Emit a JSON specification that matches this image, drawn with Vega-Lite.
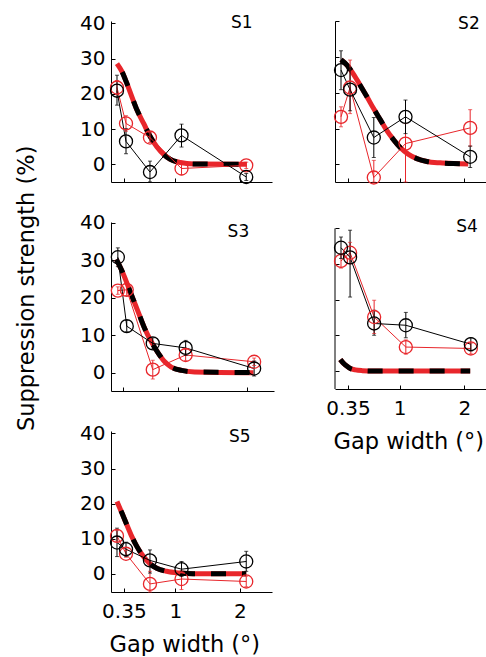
{
  "$schema": "https://vega.github.io/schema/vega-lite/v6.json",
  "padding": {"left": 15, "top": 13, "right": 0, "bottom": 0},
  "autosize": {"type": "pad"},
  "background": "white",
  "config": {
    "view": {"stroke": null},
    "font": "DejaVu Sans",
    "axis": {"grid": false, "domainColor": "#000000", "domainWidth": 1, "tickColor": "#000000", "tickWidth": 1, "tickSize": -4,
      "labelFont": "DejaVu Sans", "labelFontSize": 20, "labelColor": "#000000",
      "titleFont": "DejaVu Sans", "titleFontSize": 22.5, "titleColor": "#000000", "titleFontWeight": "normal"},
    "axisX": {"labelPadding": 13},
    "axisY": {"labelPadding": 10},
    "text": {"font": "DejaVu Sans", "fontSize": 17, "fontWeight": "normal", "color": "#000000", "align": "center", "baseline": "middle"}
  },
  "datasets": {
    "pts": [
      {"p": "S1", "c": "red", "x": 0.093, "y": 21.8, "lo": 19.8, "hi": 23.8},
      {"p": "S1", "c": "red", "x": 0.233, "y": 11.6, "lo": 9.4, "hi": 13.8},
      {"p": "S1", "c": "red", "x": 0.605, "y": 7.6, "lo": 6.2, "hi": 9.0},
      {"p": "S1", "c": "red", "x": 1.095, "y": -1.2, "lo": -3.0, "hi": 0.6},
      {"p": "S1", "c": "red", "x": 2.1, "y": -0.3, "lo": -1.2, "hi": 0.6},
      {"p": "S1", "c": "black", "x": 0.093, "y": 20.9, "lo": 16.8, "hi": 25.3},
      {"p": "S1", "c": "black", "x": 0.233, "y": 6.5, "lo": 3.0, "hi": 10.1},
      {"p": "S1", "c": "black", "x": 0.605, "y": -2.2, "lo": -5.0, "hi": 0.9},
      {"p": "S1", "c": "black", "x": 1.095, "y": 8.2, "lo": 4.9, "hi": 11.4},
      {"p": "S1", "c": "black", "x": 2.1, "y": -3.6, "lo": -4.6, "hi": -2.6},

      {"p": "S2", "c": "red", "x": 0.093, "y": 13.3, "lo": 10.5, "hi": 16.1},
      {"p": "S2", "c": "red", "x": 0.233, "y": 21.5, "lo": 14.2, "hi": 29.2},
      {"p": "S2", "c": "red", "x": 0.6, "y": -3.7, "lo": -5.0, "hi": 1.1},
      {"p": "S2", "c": "red", "x": 1.09, "y": 5.8, "lo": -4.96, "hi": 11.4},
      {"p": "S2", "c": "red", "x": 2.09, "y": 10.2, "lo": 5.1, "hi": 15.3},
      {"p": "S2", "c": "black", "x": 0.093, "y": 26.4, "lo": 20.9, "hi": 31.8},
      {"p": "S2", "c": "black", "x": 0.233, "y": 20.9, "lo": 15.0, "hi": 27.0},
      {"p": "S2", "c": "black", "x": 0.6, "y": 7.5, "lo": 1.9, "hi": 13.1},
      {"p": "S2", "c": "black", "x": 1.09, "y": 13.3, "lo": 8.6, "hi": 18.0},
      {"p": "S2", "c": "black", "x": 2.09, "y": 2.1, "lo": -0.9, "hi": 5.1},

      {"p": "S3", "c": "red", "x": 0.12, "y": 21.9, "lo": 20.9, "hi": 22.9},
      {"p": "S3", "c": "red", "x": 0.25, "y": 22.1, "lo": 20.6, "hi": 23.6},
      {"p": "S3", "c": "red", "x": 0.63, "y": 0.8, "lo": -1.7, "hi": 3.3},
      {"p": "S3", "c": "red", "x": 1.11, "y": 4.7, "lo": 3.2, "hi": 6.2},
      {"p": "S3", "c": "red", "x": 2.11, "y": 2.9, "lo": 1.9, "hi": 3.9},
      {"p": "S3", "c": "black", "x": 0.12, "y": 30.8, "lo": 28.3, "hi": 33.3},
      {"p": "S3", "c": "black", "x": 0.25, "y": 12.4, "lo": 10.9, "hi": 13.9},
      {"p": "S3", "c": "black", "x": 0.63, "y": 7.8, "lo": 6.3, "hi": 9.3},
      {"p": "S3", "c": "black", "x": 1.11, "y": 6.6, "lo": 4.6, "hi": 8.6},
      {"p": "S3", "c": "black", "x": 2.11, "y": 1.1, "lo": -0.9, "hi": 3.1},

      {"p": "S4", "c": "red", "x": 0.093, "y": 30.8, "lo": 28.8, "hi": 32.8},
      {"p": "S4", "c": "red", "x": 0.233, "y": 33.1, "lo": 30.0, "hi": 36.0},
      {"p": "S4", "c": "red", "x": 0.605, "y": 15.1, "lo": 10.5, "hi": 19.8},
      {"p": "S4", "c": "red", "x": 1.095, "y": 6.7, "lo": 4.7, "hi": 8.7},
      {"p": "S4", "c": "red", "x": 2.1, "y": 6.3, "lo": 4.8, "hi": 7.8},
      {"p": "S4", "c": "black", "x": 0.093, "y": 34.5, "lo": 31.5, "hi": 37.5},
      {"p": "S4", "c": "black", "x": 0.233, "y": 31.8, "lo": 20.7, "hi": 39.4},
      {"p": "S4", "c": "black", "x": 0.605, "y": 13.3, "lo": 10.0, "hi": 17.0},
      {"p": "S4", "c": "black", "x": 1.095, "y": 12.8, "lo": 9.3, "hi": 16.4},
      {"p": "S4", "c": "black", "x": 2.1, "y": 7.5, "lo": 5.6, "hi": 9.3},

      {"p": "S5", "c": "red", "x": 0.093, "y": 10.8, "lo": 9.3, "hi": 12.3},
      {"p": "S5", "c": "red", "x": 0.233, "y": 5.7, "lo": 4.7, "hi": 6.7},
      {"p": "S5", "c": "red", "x": 0.605, "y": -2.9, "lo": -5.2, "hi": 0.7},
      {"p": "S5", "c": "red", "x": 1.095, "y": -1.5, "lo": -4.5, "hi": 0.7},
      {"p": "S5", "c": "red", "x": 2.1, "y": -2.2, "lo": -3.7, "hi": -0.7},
      {"p": "S5", "c": "black", "x": 0.093, "y": 8.9, "lo": 4.9, "hi": 13.0},
      {"p": "S5", "c": "black", "x": 0.233, "y": 7.0, "lo": 5.0, "hi": 9.0},
      {"p": "S5", "c": "black", "x": 0.605, "y": 3.8, "lo": 0.2, "hi": 6.8},
      {"p": "S5", "c": "black", "x": 1.095, "y": 1.3, "lo": -0.8, "hi": 3.5},
      {"p": "S5", "c": "black", "x": 2.1, "y": 3.5, "lo": 0.7, "hi": 6.4}
    ],
    "fit": [
      {"p": "S1", "x": 0.093, "y": 28.6}, {"p": "S1", "x": 0.171, "y": 26.3}, {"p": "S1", "x": 0.248, "y": 22.9},
      {"p": "S1", "x": 0.326, "y": 19.1}, {"p": "S1", "x": 0.404, "y": 15.4}, {"p": "S1", "x": 0.507, "y": 11.6},
      {"p": "S1", "x": 0.611, "y": 7.8}, {"p": "S1", "x": 0.714, "y": 4.9}, {"p": "S1", "x": 0.818, "y": 2.8},
      {"p": "S1", "x": 0.921, "y": 1.4}, {"p": "S1", "x": 1.077, "y": 0.5}, {"p": "S1", "x": 1.284, "y": 0.1},
      {"p": "S1", "x": 2.11, "y": 0.0},

      {"p": "S2", "x": 0.093, "y": 29.3}, {"p": "S2", "x": 0.185, "y": 27.8}, {"p": "S2", "x": 0.288, "y": 25.2},
      {"p": "S2", "x": 0.391, "y": 22.1}, {"p": "S2", "x": 0.494, "y": 18.9}, {"p": "S2", "x": 0.597, "y": 15.6},
      {"p": "S2", "x": 0.70, "y": 12.5}, {"p": "S2", "x": 0.80, "y": 9.5}, {"p": "S2", "x": 0.905, "y": 6.9},
      {"p": "S2", "x": 1.008, "y": 4.7}, {"p": "S2", "x": 1.137, "y": 2.8}, {"p": "S2", "x": 1.265, "y": 1.6},
      {"p": "S2", "x": 1.42, "y": 0.8}, {"p": "S2", "x": 1.625, "y": 0.4}, {"p": "S2", "x": 1.83, "y": 0.2},
      {"p": "S2", "x": 2.06, "y": 0.1},

      {"p": "S3", "x": 0.098, "y": 30.2}, {"p": "S3", "x": 0.171, "y": 27.5}, {"p": "S3", "x": 0.244, "y": 24.3},
      {"p": "S3", "x": 0.317, "y": 20.8}, {"p": "S3", "x": 0.415, "y": 16.3}, {"p": "S3", "x": 0.512, "y": 11.8},
      {"p": "S3", "x": 0.61, "y": 8.2}, {"p": "S3", "x": 0.707, "y": 5.3}, {"p": "S3", "x": 0.805, "y": 2.9},
      {"p": "S3", "x": 0.90, "y": 1.5}, {"p": "S3", "x": 1.05, "y": 0.6}, {"p": "S3", "x": 1.24, "y": 0.2},
      {"p": "S3", "x": 2.10, "y": 0.0},

      {"p": "S4", "x": 0.083, "y": 3.2}, {"p": "S4", "x": 0.135, "y": 2.1}, {"p": "S4", "x": 0.187, "y": 1.3},
      {"p": "S4", "x": 0.238, "y": 0.7}, {"p": "S4", "x": 0.316, "y": 0.3}, {"p": "S4", "x": 0.42, "y": 0.1},
      {"p": "S4", "x": 0.6, "y": 0.0}, {"p": "S4", "x": 2.09, "y": 0.0},

      {"p": "S5", "x": 0.093, "y": 20.6}, {"p": "S5", "x": 0.17, "y": 17.3}, {"p": "S5", "x": 0.247, "y": 13.9},
      {"p": "S5", "x": 0.324, "y": 10.6}, {"p": "S5", "x": 0.401, "y": 7.8}, {"p": "S5", "x": 0.504, "y": 4.9},
      {"p": "S5", "x": 0.607, "y": 2.8}, {"p": "S5", "x": 0.71, "y": 1.6}, {"p": "S5", "x": 0.864, "y": 0.7},
      {"p": "S5", "x": 1.07, "y": 0.2}, {"p": "S5", "x": 1.276, "y": 0.0}, {"p": "S5", "x": 2.1, "y": 0.0}
    ],
    "lab": [{"k": 1}]
  },
  "columns": 2,
  "align": "each",
  "bounds": "flush",
  "spacing": {"row": 40, "column": 61},
  "concat": [
    {
      "width": 161, "height": 161,
      "layer": [
        {"data": {"name": "fit"}, "transform": [{"filter": "datum.p === 'S1'"}],
         "encoding": {
           "x": {"field": "x", "type": "quantitative", "scale": {"domain": [0, 2.5], "nice": false, "zero": false}, "axis": {"title": null, "values": [0.2, 1, 2], "labels": false}},
           "y": {"field": "y", "type": "quantitative", "scale": {"domain": [-5.03, 40.7], "nice": false, "zero": false}, "axis": {"title": null, "values": [0, 10, 20, 30, 40], "format": "d"}}
         },
         "layer": [
           {"mark": {"type": "line", "color": "#e8262b", "strokeWidth": 5, "interpolate": "monotone"}},
           {"mark": {"type": "line", "color": "#000000", "strokeWidth": 5, "strokeDash": [15, 16], "strokeDashOffset": 21, "interpolate": "monotone"}}
         ]},
        {"data": {"name": "pts"}, "transform": [{"filter": "datum.p === 'S1'"}],
         "encoding": {"x": {"field": "x", "type": "quantitative"}, "y": {"field": "y", "type": "quantitative"},
           "color": {"field": "c", "type": "nominal", "scale": {"domain": ["black", "red"], "range": ["#000000", "#e8262b"]}, "legend": null}},
         "layer": [
           {"mark": {"type": "line", "strokeWidth": 1}},
           {"mark": {"type": "rule", "strokeWidth": 1}, "encoding": {"y": {"field": "lo", "type": "quantitative"}, "y2": {"field": "hi"}}},
           {"mark": {"type": "tick", "orient": "horizontal", "size": 4, "thickness": 1}, "encoding": {"y": {"field": "lo", "type": "quantitative"}}},
           {"mark": {"type": "tick", "orient": "horizontal", "size": 4, "thickness": 1}, "encoding": {"y": {"field": "hi", "type": "quantitative"}}},
           {"mark": {"type": "point", "shape": "circle", "filled": false, "size": 170, "strokeWidth": 1.3, "opacity": 1}}
         ]},
        {"data": {"name": "lab"}, "mark": {"type": "text", "text": "S1"}, "encoding": {"x": {"datum": 2.03, "type": "quantitative"}, "y": {"datum": 40, "type": "quantitative"}}}
      ]
    },
    {
      "width": 152, "height": 161,
      "layer": [
        {"data": {"name": "fit"}, "transform": [{"filter": "datum.p === 'S2'"}],
         "encoding": {
           "x": {"field": "x", "type": "quantitative", "scale": {"domain": [0, 2.35], "nice": false, "zero": false}, "axis": {"title": null, "values": [0.2, 1, 2], "labels": false}},
           "y": {"field": "y", "type": "quantitative", "scale": {"domain": [-4.96, 40.14], "nice": false, "zero": false}, "axis": {"title": null, "values": [0, 10, 20, 30, 40], "labels": false}}
         },
         "layer": [
           {"mark": {"type": "line", "color": "#e8262b", "strokeWidth": 5, "interpolate": "monotone"}},
           {"mark": {"type": "line", "color": "#000000", "strokeWidth": 5, "strokeDash": [15, 16], "interpolate": "monotone"}}
         ]},
        {"data": {"name": "pts"}, "transform": [{"filter": "datum.p === 'S2'"}],
         "encoding": {"x": {"field": "x", "type": "quantitative"}, "y": {"field": "y", "type": "quantitative"},
           "color": {"field": "c", "type": "nominal", "scale": {"domain": ["black", "red"], "range": ["#000000", "#e8262b"]}, "legend": null}},
         "layer": [
           {"mark": {"type": "line", "strokeWidth": 1}},
           {"mark": {"type": "rule", "strokeWidth": 1}, "encoding": {"y": {"field": "lo", "type": "quantitative"}, "y2": {"field": "hi"}}},
           {"mark": {"type": "tick", "orient": "horizontal", "size": 4, "thickness": 1}, "encoding": {"y": {"field": "lo", "type": "quantitative"}}},
           {"mark": {"type": "tick", "orient": "horizontal", "size": 4, "thickness": 1}, "encoding": {"y": {"field": "hi", "type": "quantitative"}}},
           {"mark": {"type": "point", "shape": "circle", "filled": false, "size": 170, "strokeWidth": 1.3, "opacity": 1}}
         ]},
        {"data": {"name": "lab"}, "mark": {"type": "text", "text": "S2"}, "encoding": {"x": {"datum": 2.07, "type": "quantitative"}, "y": {"datum": 39.4, "type": "quantitative"}}}
      ]
    },
    {
      "width": 163, "height": 169,
      "layer": [
        {"data": {"name": "fit"}, "transform": [{"filter": "datum.p === 'S3'"}],
         "encoding": {
           "x": {"field": "x", "type": "quantitative", "scale": {"domain": [0.02, 2.4], "nice": false, "zero": false}, "axis": {"title": null, "values": [0.2, 1, 2], "labels": false}},
           "y": {"field": "y", "type": "quantitative", "scale": {"domain": [-4.9, 40.2], "nice": false, "zero": false}, "axis": {"title": "Suppression strength (%)", "values": [0, 10, 20, 30, 40], "format": "d", "titleX": -77.4, "titleY": 65.8, "titleAngle": -90, "titleBaseline": "alphabetic", "titleAlign": "center"}}
         },
         "layer": [
           {"mark": {"type": "line", "color": "#e8262b", "strokeWidth": 5, "interpolate": "monotone"}},
           {"mark": {"type": "line", "color": "#000000", "strokeWidth": 5, "strokeDash": [15, 16], "interpolate": "monotone"}}
         ]},
        {"data": {"name": "pts"}, "transform": [{"filter": "datum.p === 'S3'"}],
         "encoding": {"x": {"field": "x", "type": "quantitative"}, "y": {"field": "y", "type": "quantitative"},
           "color": {"field": "c", "type": "nominal", "scale": {"domain": ["black", "red"], "range": ["#000000", "#e8262b"]}, "legend": null}},
         "layer": [
           {"mark": {"type": "line", "strokeWidth": 1}},
           {"mark": {"type": "rule", "strokeWidth": 1}, "encoding": {"y": {"field": "lo", "type": "quantitative"}, "y2": {"field": "hi"}}},
           {"mark": {"type": "tick", "orient": "horizontal", "size": 4, "thickness": 1}, "encoding": {"y": {"field": "lo", "type": "quantitative"}}},
           {"mark": {"type": "tick", "orient": "horizontal", "size": 4, "thickness": 1}, "encoding": {"y": {"field": "hi", "type": "quantitative"}}},
           {"mark": {"type": "point", "shape": "circle", "filled": false, "size": 170, "strokeWidth": 1.3, "opacity": 1}}
         ]},
        {"data": {"name": "lab"}, "mark": {"type": "text", "text": "S3"}, "encoding": {"x": {"datum": 1.88, "type": "quantitative"}, "y": {"datum": 37.5, "type": "quantitative"}}}
      ]
    },
    {
      "width": 152, "height": 167,
      "layer": [
        {"data": {"name": "fit"}, "transform": [{"filter": "datum.p === 'S4'"}],
         "encoding": {
           "x": {"field": "x", "type": "quantitative", "scale": {"domain": [0, 2.35], "nice": false, "zero": false}, "axis": {"title": "Gap width (°)", "values": [0.2, 1, 2], "labelExpr": "datum.value < 0.5 ? '0.35' : format(datum.value, 'd')", "titleX": -2, "titleY": 59.4, "titleBaseline": "alphabetic", "titleAlign": "left"}},
           "y": {"field": "y", "type": "quantitative", "scale": {"domain": [-5.04, 41.7], "nice": false, "zero": false}, "axis": {"title": null, "values": [0, 10, 20, 30, 40], "labels": false, "domain": false}}
         },
         "layer": [
           {"mark": {"type": "line", "color": "#e8262b", "strokeWidth": 5, "interpolate": "monotone"}},
           {"mark": {"type": "line", "color": "#000000", "strokeWidth": 5, "strokeDash": [15, 16], "interpolate": "monotone"}}
         ]},
        {"data": {"name": "lab"}, "mark": {"type": "rule", "color": "#000000", "strokeWidth": 1}, "encoding": {"x": {"datum": 0, "type": "quantitative"}, "y": {"datum": -5.04, "type": "quantitative"}, "y2": {"datum": 39.9}}},
        {"data": {"name": "pts"}, "transform": [{"filter": "datum.p === 'S4'"}],
         "encoding": {"x": {"field": "x", "type": "quantitative"}, "y": {"field": "y", "type": "quantitative"},
           "color": {"field": "c", "type": "nominal", "scale": {"domain": ["black", "red"], "range": ["#000000", "#e8262b"]}, "legend": null}},
         "layer": [
           {"mark": {"type": "line", "strokeWidth": 1}},
           {"mark": {"type": "rule", "strokeWidth": 1}, "encoding": {"y": {"field": "lo", "type": "quantitative"}, "y2": {"field": "hi"}}},
           {"mark": {"type": "tick", "orient": "horizontal", "size": 4, "thickness": 1}, "encoding": {"y": {"field": "lo", "type": "quantitative"}}},
           {"mark": {"type": "tick", "orient": "horizontal", "size": 4, "thickness": 1}, "encoding": {"y": {"field": "hi", "type": "quantitative"}}},
           {"mark": {"type": "point", "shape": "circle", "filled": false, "size": 170, "strokeWidth": 1.3, "opacity": 1}}
         ]},
        {"data": {"name": "lab"}, "mark": {"type": "text", "text": "S4"}, "encoding": {"x": {"datum": 2.04, "type": "quantitative"}, "y": {"datum": 40.3, "type": "quantitative"}}}
      ]
    },
    {
      "width": 161, "height": 161,
      "layer": [
        {"data": {"name": "fit"}, "transform": [{"filter": "datum.p === 'S5'"}],
         "encoding": {
           "x": {"field": "x", "type": "quantitative", "scale": {"domain": [0, 2.5], "nice": false, "zero": false}, "axis": {"title": "Gap width (°)", "values": [0.2, 1, 2], "labelExpr": "datum.value < 0.5 ? '0.35' : format(datum.value, 'd')", "titleX": -2, "titleY": 59.4, "titleBaseline": "alphabetic", "titleAlign": "left"}},
           "y": {"field": "y", "type": "quantitative", "scale": {"domain": [-5.2, 40.7], "nice": false, "zero": false}, "axis": {"title": null, "values": [0, 10, 20, 30, 40], "format": "d"}}
         },
         "layer": [
           {"mark": {"type": "line", "color": "#e8262b", "strokeWidth": 5, "interpolate": "monotone"}},
           {"mark": {"type": "line", "color": "#000000", "strokeWidth": 5, "strokeDash": [15, 16], "strokeDashOffset": 21, "interpolate": "monotone"}}
         ]},
        {"data": {"name": "pts"}, "transform": [{"filter": "datum.p === 'S5'"}],
         "encoding": {"x": {"field": "x", "type": "quantitative"}, "y": {"field": "y", "type": "quantitative"},
           "color": {"field": "c", "type": "nominal", "scale": {"domain": ["black", "red"], "range": ["#000000", "#e8262b"]}, "legend": null}},
         "layer": [
           {"mark": {"type": "line", "strokeWidth": 1}},
           {"mark": {"type": "rule", "strokeWidth": 1}, "encoding": {"y": {"field": "lo", "type": "quantitative"}, "y2": {"field": "hi"}}},
           {"mark": {"type": "tick", "orient": "horizontal", "size": 4, "thickness": 1}, "encoding": {"y": {"field": "lo", "type": "quantitative"}}},
           {"mark": {"type": "tick", "orient": "horizontal", "size": 4, "thickness": 1}, "encoding": {"y": {"field": "hi", "type": "quantitative"}}},
           {"mark": {"type": "point", "shape": "circle", "filled": false, "size": 170, "strokeWidth": 1.3, "opacity": 1}}
         ]},
        {"data": {"name": "lab"}, "mark": {"type": "text", "text": "S5"}, "encoding": {"x": {"datum": 2.0, "type": "quantitative"}, "y": {"datum": 39, "type": "quantitative"}}}
      ]
    }
  ]
}
